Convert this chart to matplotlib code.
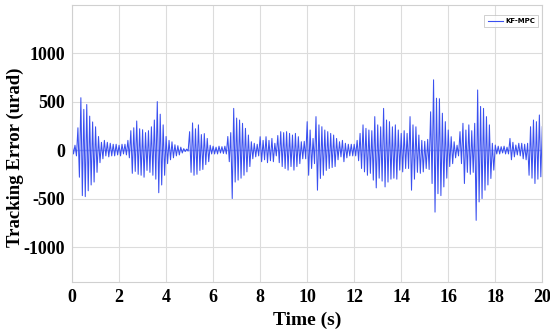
import numpy as np
import matplotlib.pyplot as plt

plt.rcParams['axes.unicode_minus'] = False

# peak values of each oscillation cycle (one cycle every 0.125 s)
pos_peaks = [
    60, 50, 230, 540, 420, 470, 350, 290,      # 0 s
    240, 140, 80, 100, 80, 70, 60, 60,         # 1 s
    50, 60, 60, 100, 200, 230, 300, 220,       # 2 s
    210, 180, 200, 240, 310, 500, 370, 260,    # 3 s
    140, 100, 85, 55, 45, 30, 15, 10,          # 4 s
    190, 280, 220, 260, 160, 170, 120, 50,     # 5 s
    40, 30, 40, 35, 40, 140, 180, 430,         # 6 s
    330, 310, 276, 224, 155, 86, 70, 60,       # 7 s
    138, 100, 138, 100, 120, 70, 150, 190,     # 8 s
    180, 190, 172, 155, 172, 138, 86, 90,      # 9 s
    293, 207, 120, 345, 260, 241, 207, 190,    # 10 s
    172, 155, 120, 86, 100, 70, 60, 60,        # 11 s
    60, 100, 172, 260, 224, 207, 200, 345,     # 12 s
    260, 240, 430, 310, 293, 240, 260, 207,    # 13 s
    172, 200, 172, 345, 260, 240, 155, 100,    # 14 s
    90, 110, 395, 725, 535, 530, 380, 293,     # 15 s
    207, 138, 86, 50, 190, 276, 207, 260,      # 16 s
    200, 276, 620, 450, 430, 345, 260, 70,     # 17 s
    52, 40, 35, 40, 30, 120, 80, 52,           # 18 s
    70, 70, 60, 70, 241, 310, 293, 362,        # 19 s
    241,
]
neg_peaks = [
    -40, -60, -280, -470, -480, -420, -360, -330,
    -230, -130, -90, -60, -70, -60, -60, -50,
    -60, -40, -50, -80, -240, -220, -250, -260,
    -280, -210, -230, -260, -300, -440, -360, -260,
    -140, -100, -80, -60, -50, -30, -15, -10,
    -230, -260, -250, -210, -200, -150, -120, -40,
    -40, -40, -30, -35, -40, -120, -500, -330,
    -310, -290, -260, -225, -170, -90, -70, -60,
    -120, -100, -130, -110, -120, -60, -130, -170,
    -190, -207, -170, -207, -170, -140, -90, -90,
    -260, -190, -140, -414, -293, -260, -210, -190,
    -180, -170, -100, -70, -120, -80, -60, -60,
    -60, -110, -190, -225, -260, -240, -310, -390,
    -290, -320, -380, -330, -300, -290, -300, -207,
    -225, -190, -190, -414, -300, -230, -240, -225,
    -190, -200, -345, -640, -450, -470, -380, -290,
    -170, -140, -80, -60, -140, -345, -230, -250,
    -230, -725, -535, -500, -414, -360, -293, -207,
    -40, -40, -30, -40, -40, -100, -70, -50,
    -60, -90, -100, -260, -290, -345, -300, -276,
    -360,
]
period = 0.125

t_pos = np.arange(len(pos_peaks)) * period
t_neg = t_pos + period / 2
t = np.column_stack([t_pos, t_neg]).ravel()
err = np.column_stack([pos_peaks, neg_peaks]).ravel()
keep = t <= 20
t, err = t[keep], err[keep]

fig = plt.figure(figsize=(5.5, 3.34), dpi=100)
ax = fig.add_axes([0.131, 0.156, 0.855, 0.83])

ax.axhline(0, color='#aab6f6', lw=1.0, zorder=1)
ax.plot(t, err, color='#3a50f0', lw=0.75, label='KF-MPC', zorder=2)

ax.set_xlim(0, 20)
ax.set_ylim(-1360, 1500)
ax.set_xticks(np.arange(0, 21, 2))
ax.set_yticks([-1000, -500, 0, 500, 1000])
ax.grid(True, color='#dcdcdc', lw=0.8)
ax.set_axisbelow(True)
for s in ax.spines.values():
    s.set_color('#d0d0d0')
ax.tick_params(length=0, pad=5)
for lab in ax.get_xticklabels() + ax.get_yticklabels():
    lab.set_fontfamily('Liberation Serif')
    lab.set_fontweight('bold')
    lab.set_fontsize(13)

ax.set_xlabel('Time (s)', family='Liberation Serif', weight='bold', fontsize=14, labelpad=4)
ax.set_ylabel('Tracking Error (urad)', family='Liberation Serif', weight='bold', fontsize=13.5)
ax.yaxis.set_label_coords(-0.103, 0.45)

leg = ax.legend(loc='upper right', bbox_to_anchor=(0.998, 0.975), fancybox=False,
                prop={'family': 'DejaVu Sans', 'weight': 'bold', 'size': 5},
                handlelength=2.2, borderpad=0.45, handletextpad=0.3)
leg.get_frame().set_edgecolor('#bbbbbb')
leg.get_frame().set_linewidth(0.6)
for ln in leg.get_lines():
    ln.set_linewidth(0.8)

fig.savefig('out.png', dpi=100)
